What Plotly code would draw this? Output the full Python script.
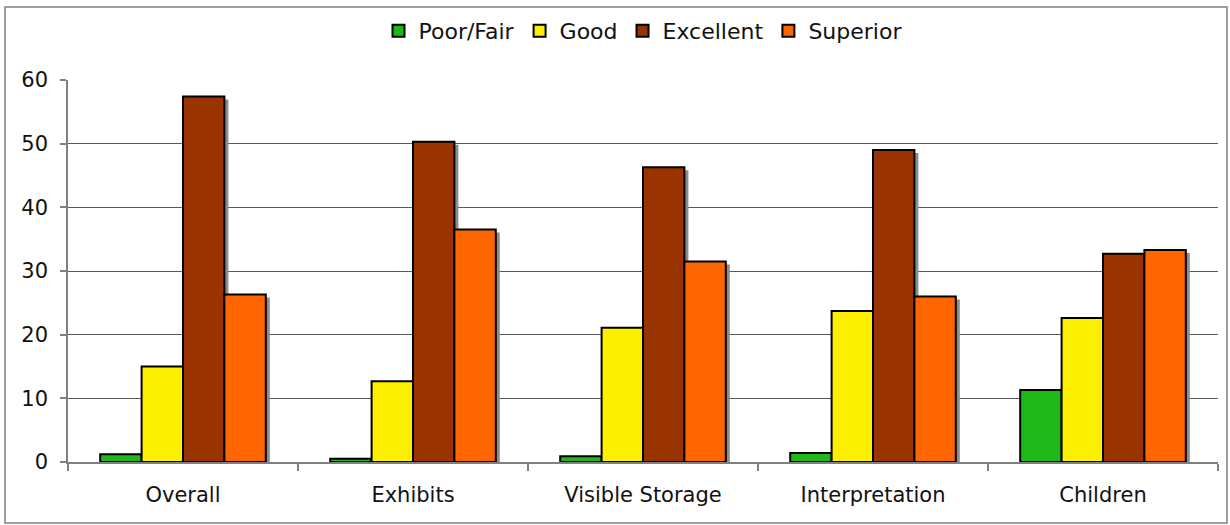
import plotly.graph_objects as go

categories = ["Overall", "Exhibits", "Visible Storage", "Interpretation", "Children"]
poor_fair = [1.2, 0.5, 0.9, 1.4, 11.3]
good = [15.0, 12.7, 21.1, 23.7, 22.6]
excellent = [57.4, 50.3, 46.3, 49.0, 32.7]
superior = [26.3, 36.5, 31.5, 26.0, 33.3]
series_names = ["Poor/Fair", "Good", "Excellent", "Superior"]
series_colors = ["#1FB819", "#FCF000", "#993300", "#FF6600"]
y_ticks = [0, 10, 20, 30, 40, 50, 60]

series = [poor_fair, good, excellent, superior]
FONT = "DejaVu Sans"
FS = 21

fig = go.Figure()

# Shadows (drawn on the hidden base axes, shifted a few pixels right/down)
for name, vals in zip(series_names, series):
    fig.add_trace(go.Bar(
        x=categories, y=vals, name=name, showlegend=False, hoverinfo="skip",
        marker=dict(color="#8C8C8C", line=dict(width=0)),
        xaxis="x", yaxis="y",
    ))

# Real bars on overlay axes
for name, vals, col in zip(series_names, series, series_colors):
    fig.add_trace(go.Bar(
        x=categories, y=vals, name=name,
        marker=dict(color=col, line=dict(color="#000000", width=2)),
        xaxis="x2", yaxis="y2",
    ))

PW, PH = 1150, 382
dx_px, dy_px = 4, 3
dx = dx_px / PW * 5
dy = dy_px / PH * 60

fig.update_layout(
    width=1230, height=525,
    margin=dict(l=68, r=12, t=80, b=63, autoexpand=False),
    paper_bgcolor="white", plot_bgcolor="white",
    barmode="group", bargap=0.28, bargroupgap=0,
    font=dict(family=FONT, size=FS, color="#111111"),
    showlegend=True,
    legend=dict(orientation="h", x=0.5, xanchor="center", y=(462 - 31) / PH, yanchor="middle",
                font=dict(family=FONT, size=22, color="#111111"),
                itemwidth=30, tracegroupgap=0, bgcolor="rgba(0,0,0,0)"),
    xaxis=dict(type="category", range=[-0.5 - dx, 4.5 - dx], visible=False,
               showgrid=False, fixedrange=True),
    yaxis=dict(range=[0 + dy, 60 + dy], visible=False, showgrid=False, fixedrange=True),
    xaxis2=dict(type="category", overlaying="x", range=[-0.5, 4.5],
                showline=True, linecolor="#808080", linewidth=1.5,
                ticks="outside", tickson="boundaries", ticklen=7, tickcolor="#808080",
                tickwidth=1.5, showgrid=False, ticklabelstandoff=13,
                tickfont=dict(family=FONT, size=FS, color="#111111")),
    yaxis2=dict(overlaying="y", range=[0, 60], tickvals=y_ticks,
                showline=True, linecolor="#808080", linewidth=1.5,
                ticks="outside", ticklen=6, tickcolor="#808080", tickwidth=1.5,
                showgrid=True, gridcolor="#5A5A5A", gridwidth=1,
                zeroline=False, ticklabelstandoff=8,
                tickfont=dict(family=FONT, size=FS, color="#111111")),
    shapes=[dict(type="rect", xref="paper", yref="paper",
                 x0=(5 - 68) / PW, x1=(1227 - 68) / PW,
                 y0=(462 - 523) / PH, y1=(462 - 7) / PH,
                 line=dict(color="#808080", width=1.5), fillcolor="rgba(0,0,0,0)",
                 layer="below")],
)

fig.write_html("out.html")
